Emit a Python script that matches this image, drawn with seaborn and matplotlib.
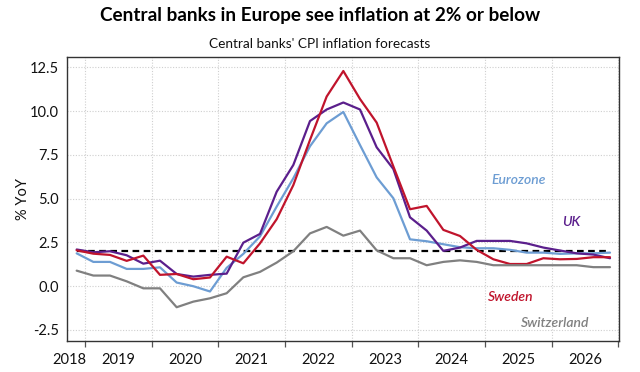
import matplotlib
matplotlib.use("Agg")
import matplotlib.pyplot as plt
import numpy as np
import pandas as pd
import seaborn as sns
from matplotlib.ticker import FixedLocator, FixedFormatter, NullFormatter

# ---------------- data ----------------
quarters = pd.period_range("2018Q4", "2026Q4", freq="Q")
eurozone = [1.88, 1.39, 1.39, 0.99, 0.99, 1.08, 0.21, 0.0, -0.3, 1.05, 1.85,
            2.85, 4.55, 6.17, 8.0, 9.31, 9.96, 8.07, 6.22, 5.03, 2.68, 2.57,
            2.4, 2.23, 2.17, 2.17, 2.08, 1.92, 1.92, 1.85, 1.88, 1.88, 1.92]
uk = [2.1, 1.94, 2.0, 1.77, 1.29, 1.46, 0.7, 0.55, 0.65, 0.72, 2.49,
      2.99, 5.4, 6.93, 9.44, 10.1, 10.5, 10.1, 7.94, 6.7, 3.94, 3.18,
      2.02, 2.21, 2.59, 2.59, 2.59, 2.45, 2.21, 2.04, 1.88, 1.81, 1.6]
sweden = [2.05, 1.86, 1.79, 1.45, 1.75, 0.65, 0.7, 0.4, 0.5, 1.69, 1.31,
          2.45, 3.83, 5.78, 8.36, 10.84, 12.3, 10.7, 9.35, 6.85, 4.4, 4.59,
          3.22, 2.87, 2.08, 1.54, 1.27, 1.27, 1.6, 1.54, 1.56, 1.66, 1.66]
switzerland = [0.89, 0.61, 0.61, 0.28, -0.12, -0.12, -1.2, -0.88, -0.69, -0.4, 0.51,
               0.82, 1.35, 2.0, 3.02, 3.39, 2.89, 3.18, 2.05, 1.6, 1.6, 1.2,
               1.39, 1.48, 1.39, 1.2, 1.2, 1.2, 1.2, 1.2, 1.2, 1.09, 1.09]
target = 2.0

series_names = ["Eurozone", "UK", "Sweden", "Switzerland"]
colors = {"Eurozone": "#6d9dd3", "UK": "#5b1f8c",
          "Sweden": "#c0142c", "Switzerland": "#808080"}
# label anchor (decimal year, value)
label_x = [2025.5, 2026.3, 2025.39, 2026.05]
label_y = [6.07, 3.67, -0.59, -2.1]

year_labels = ["2018", "2019", "2020", "2021", "2022", "2023", "2024", "2025", "2026"]
y_ticks = [-2.5, 0.0, 2.5, 5.0, 7.5, 10.0, 12.5]

title = "Central banks in Europe see inflation at 2% or below"
subtitle = "Central banks' CPI inflation forecasts"

# ---------------- frame ----------------
t = np.array([p.year + (p.quarter - 0.5) / 4 for p in quarters])
values = {"Eurozone": eurozone, "UK": uk, "Sweden": sweden, "Switzerland": switzerland}
df = pd.concat([pd.DataFrame({"t": t, "value": values[n], "bank": n}) for n in series_names],
               ignore_index=True)

sns.set_theme(style="white")
FONT = ["Lato", "DejaVu Sans"]
plt.rcParams["font.family"] = FONT
plt.rcParams["axes.unicode_minus"] = False

fig = plt.figure(figsize=(6.4, 3.72), dpi=100)
fig.patch.set_facecolor("white")
ax = fig.add_axes([67 / 640, 1 - 341 / 372, 552 / 640, 284 / 372])

ax.hlines(target, t[0], t[-1], colors="black", linestyles=(0, (3, 2)), linewidth=1.6, zorder=1)

sns.lineplot(data=df, x="t", y="value", hue="bank", hue_order=series_names,
             palette=colors, linewidth=1.6, legend=False, ax=ax, zorder=3)

ax.set_xlim(2018.73, 2027.01)
ax.set_ylim(-3.13, 13.1)

# x ticks: year boundaries (marks) + labels mid-year
ax.xaxis.set_major_locator(FixedLocator(list(range(2019, 2028))))
ax.xaxis.set_major_formatter(NullFormatter())
minor_pos = [2018.76] + [int(y) + 0.5 for y in year_labels[1:]]
ax.xaxis.set_minor_locator(FixedLocator(minor_pos))
ax.xaxis.set_minor_formatter(FixedFormatter(year_labels))
ax.tick_params(axis="x", which="major", length=4, width=0.9, color="#555555", direction="out", bottom=True)
ax.tick_params(axis="x", which="minor", length=0, pad=9, labelsize=10.5, labelcolor="#111111", bottom=True)

ax.set_yticks(y_ticks)
ax.set_yticklabels([f"{v:.1f}" for v in y_ticks])
ax.tick_params(axis="y", length=0, pad=6, labelsize=10.5, labelcolor="#111111")

ax.grid(True, which="major", axis="both", color="#cfcfcf", linestyle=(0, (1, 1.5)), linewidth=0.8)
ax.set_axisbelow(True)

for s in ax.spines.values():
    s.set_color("#333333")
    s.set_linewidth(1.0)

ax.set_xlabel("")
ax.set_ylabel("% YoY", fontsize=10.5, color="#111111", labelpad=0)

for n, lx, ly in zip(series_names, label_x, label_y):
    ax.text(lx, ly, n, color=colors[n], fontsize=10, fontstyle="italic",
            fontweight="semibold", ha="center", va="center")

fig.text(0.5, 1 - 15 / 372, title, ha="center", va="center", fontsize=13.6,
         fontweight="bold", color="#000000")
fig.text(0.5, 1 - 44 / 372, subtitle, ha="center", va="center", fontsize=9.8,
         color="#111111")

fig.savefig("out.png", dpi=100, facecolor="white")
